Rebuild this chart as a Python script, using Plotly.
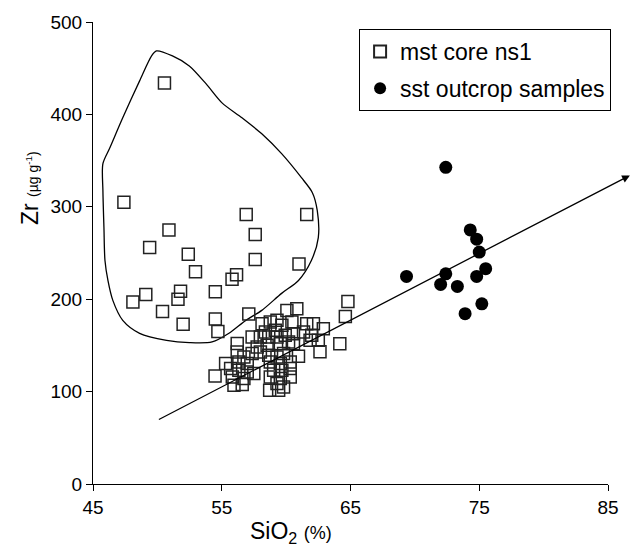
import plotly.graph_objects as go

# mudstone core ns1 (open squares): SiO2 %, Zr ug/g
mst_sio2 = [50.55, 47.4, 56.9, 61.6, 50.9, 57.6, 49.4, 52.4, 57.6, 61.0, 52.96, 56.15, 55.8,
            54.5, 49.1, 48.1, 51.8, 51.6, 50.4, 52.0, 54.5, 54.7,
            57.1, 60.06, 60.83, 56.2, 55.3, 54.48, 62.63, 64.17, 64.6, 64.8,
            58.77, 59.29, 61.60, 62.12, 62.89, 60.45, 59.67, 58.13, 58.39, 59.16,
            57.36, 58.00, 58.65, 59.29, 59.93, 60.57, 61.35, 61.99,
            57.75, 58.52, 59.55, 60.19, 60.57, 61.86, 62.50,
            56.20, 56.72, 57.36, 58.00, 58.65, 59.29, 59.80, 60.32, 60.96,
            56.33, 56.98, 58.77, 59.55,
            55.69, 56.33, 56.98, 57.49, 59.03, 59.67, 60.32,
            58.77, 59.55, 60.32, 55.82, 56.72,
            55.95, 56.59, 59.29, 59.80, 58.72, 59.42]
mst_zr = [434, 305, 291.6, 291.6, 275, 270, 256, 248.7, 243, 238, 229.7, 226.4, 221.7,
          208, 205, 197, 208.7, 200, 186.8, 173, 178.5, 165,
          184, 187.9, 189.7, 152, 130.3, 117, 143, 151.9, 181.4, 197.6,
          175.3, 177.1, 173.5, 173.5, 168.1, 175.3, 171.7, 173.5, 164.5, 166.3,
          159.1, 159.1, 159.1, 159.1, 160.9, 162.7, 164.5, 160.9,
          148.3, 150.1, 151.9, 153.7, 151.9, 155.5, 155.5,
          142.9, 137.5, 141.1, 142.9, 139.3, 137.5, 141.1, 132.1, 138.2,
          132.1, 130.3, 132.1, 130.3,
          124.9, 123.1, 121.3, 119.5, 123.1, 123.1, 124.9,
          115.9, 114.1, 115.9, 115.9, 114.1,
          106.9, 107.6, 108.7, 105.1, 101.5, 101.5]

# sandstone outcrop samples (filled circles)
sst_sio2 = [72.4, 74.3, 74.8, 75.0, 69.35, 72.4, 72.0, 73.3, 75.5, 74.8, 75.2, 73.9]
sst_zr = [342.7, 275, 265, 251, 224.6, 227.5, 216, 213.8, 233, 224.6, 195, 184.3]

# hand-drawn outline around the high-Zr mudstone group
hull_sio2 = [49.93, 51.17, 52.48, 53.79, 55.02, 56.57, 58.11, 59.65, 61.19, 62.04, 62.42, 62.50,
             61.96, 60.96, 59.65, 58.11, 56.87, 55.56, 54.25, 52.48, 50.71, 48.62, 47.31, 46.54,
             46.16, 45.93, 45.85, 45.77, 45.77, 46.31, 47.31, 48.62, 49.55, 49.93]
hull_zr = [468.7, 463.3, 452.5, 433.0, 412.5, 396.3, 379.0, 357.5, 331.5, 315.3, 295.9, 266.7,
           241.9, 220.3, 206.3, 187.9, 177.1, 163.1, 153.7, 153.0, 155.5, 163.1, 177.1, 198.7,
           220.3, 241.9, 277.5, 317.5, 346.7, 363.9, 396.3, 436.3, 463.3, 468.7]

# trend arrow (tail -> head)
arrow_sio2 = [50.0, 86.7]
arrow_zr = [69.0, 334.0]

x_ticks = [45, 55, 65, 75, 85]
y_ticks = [0, 100, 200, 300, 400, 500]

FONT = "Liberation Sans, Arial, sans-serif"

fig = go.Figure()
fig.add_trace(go.Scatter(x=hull_sio2, y=hull_zr, mode="lines",
                         line=dict(color="black", width=1.3, shape="spline", smoothing=0.8),
                         showlegend=False, hoverinfo="skip"))
fig.add_trace(go.Scatter(x=mst_sio2, y=mst_zr, mode="markers", name="mst core ns1",
                         legendgroup="a",
                         marker=dict(symbol="square-open", size=12, color="#222",
                                     line=dict(width=1.5, color="#222"))))
fig.add_trace(go.Scatter(x=sst_sio2, y=sst_zr, mode="markers", name="sst outcrop samples",
                         legendgroup="b",
                         marker=dict(symbol="circle", size=13, color="black")))

fig.add_annotation(x=arrow_sio2[1], y=arrow_zr[1], ax=arrow_sio2[0], ay=arrow_zr[0],
                   xref="x", yref="y", axref="x", ayref="y", text="",
                   showarrow=True, arrowhead=2, arrowsize=1.2, arrowwidth=1.3,
                   arrowcolor="black")

fig.add_annotation(text="Zr <span style='font-size:14px'>(µg g<sup>-1</sup>)</span>",
                   xref="paper", yref="paper", x=-0.121, y=0.64, textangle=-90,
                   xanchor="center", yanchor="middle",
                   showarrow=False, font=dict(family=FONT, size=23, color="black"))
fig.add_annotation(text="SiO<sub>2</sub> <span style='font-size:18px'>(%)</span>",
                   xref="paper", yref="paper", x=0.385, y=-0.104,
                   xanchor="center", yanchor="middle",
                   showarrow=False, font=dict(family=FONT, size=23, color="black"))

fig.update_xaxes(range=[45, 85], tickvals=x_ticks, ticks="outside", ticklen=6,
                 tickcolor="black", showline=True, linecolor="black", linewidth=1,
                 showgrid=False, zeroline=False,
                 tickfont=dict(family=FONT, size=19, color="black"))
fig.update_yaxes(range=[0, 500], tickvals=y_ticks, ticks="outside", ticklen=6,
                 tickcolor="black", showline=True, linecolor="black", linewidth=1,
                 showgrid=False, zeroline=False,
                 tickfont=dict(family=FONT, size=19, color="black"))

fig.update_layout(width=631, height=547,
                  margin=dict(l=93, r=19, t=21, b=63),
                  plot_bgcolor="white", paper_bgcolor="white",
                  font=dict(family=FONT, color="black"),
                  legend=dict(x=1.006, y=0.985, xanchor="right", yanchor="top",
                              bordercolor="black", borderwidth=1, bgcolor="white",
                              font=dict(family=FONT, size=23, color="black"),
                              traceorder="grouped", tracegroupgap=4,
                              itemsizing="constant"))

fig.write_html("out.html", config={"displayModeBar": False},
               post_script="document.body.style.margin='0px';")
